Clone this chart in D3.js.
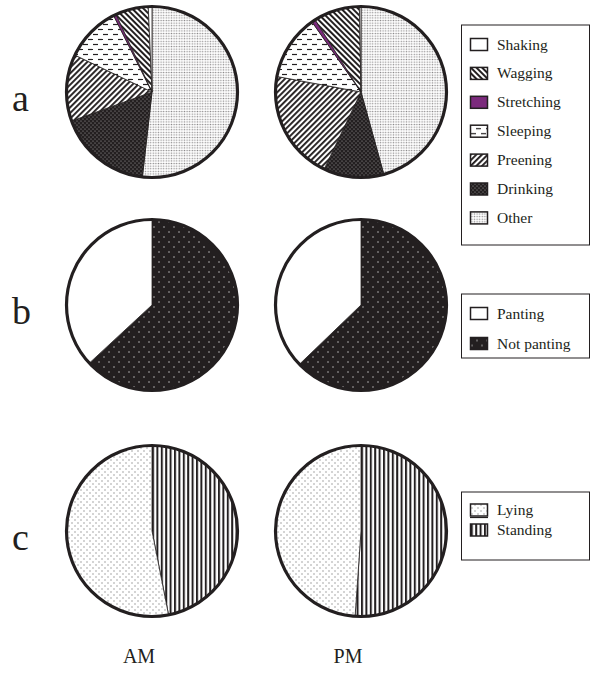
<!DOCTYPE html>
<html>
<head>
<meta charset="utf-8">
<script src="https://cdn.jsdelivr.net/npm/d3@7"></script>
<style>
  body { margin: 0; background: #fff; }
  svg { display: block; }
  text { font-family: "Liberation Serif", "DejaVu Serif", serif; fill: #231f20; }
</style>
</head>
<body>
<script>
const width = 593;
const height = 687;
const ink = '#231f20';

// behaviour (row a), percentages
const behaviours = ['Shaking', 'Wagging', 'Stretching', 'Sleeping', 'Preening', 'Drinking', 'Other'];
const behaviourAM = [0.7, 6.2, 0.5, 10.5, 12.6, 17.7, 51.8];
const behaviourPM = [0.3, 8.7, 0.7, 12.4, 20.8, 11.4, 45.7];

// panting (row b)
const panting = ['Panting', 'Not panting'];
const pantingAM = [36.9, 63.1];
const pantingPM = [37.2, 62.8];

// posture (row c)
const postures = ['Lying', 'Standing'];
const postureAM = [53.1, 46.9];
const posturePM = [48.9, 51.1];

const rowLabels = ['a', 'b', 'c'];
const times = ['AM', 'PM'];

const svg = d3.select('body')
    .append('svg')
    .attr('width', width)
    .attr('height', height);

// ---- fill patterns ----
const defs = svg.append('defs');

function dots(id, size, bg, fg, r, pts) {
    const p = defs.append('pattern')
        .attr('id', id)
        .attr('patternUnits', 'userSpaceOnUse')
        .attr('width', size)
        .attr('height', size);
    p.append('rect').attr('width', size).attr('height', size).attr('fill', bg);
    pts.forEach(([x, y]) => p.append('circle').attr('cx', x).attr('cy', y).attr('r', r).attr('fill', fg));
}
function stripes(id, step, w, angle) {
    const p = defs.append('pattern')
        .attr('id', id)
        .attr('patternUnits', 'userSpaceOnUse')
        .attr('width', step)
        .attr('height', step)
        .attr('patternTransform', `rotate(${angle})`);
    p.append('rect').attr('width', step).attr('height', step).attr('fill', '#fff');
    p.append('rect').attr('width', w).attr('height', step).attr('fill', ink);
}

dots('p-other', 2.6, '#fff', '#8c8a8b', 0.75, [[1.3, 1.3]]);
dots('p-drink', 4, ink, '#a8a6a7', 0.6, [[1, 1], [3, 3]]);
dots('p-notpant', 10, ink, '#b5b3b4', 0.8, [[2, 2], [7, 7]]);
dots('p-lying', 6, '#fff', '#8a8889', 0.7, [[1, 1], [4, 4]]);
stripes('p-preen', 4, 1.9, 45);
stripes('p-wag', 4, 2, -45);
stripes('p-stand', 4.4, 2, 0);

const sl = defs.append('pattern')
    .attr('id', 'p-sleep')
    .attr('patternUnits', 'userSpaceOnUse')
    .attr('width', 10)
    .attr('height', 10);
sl.append('rect').attr('width', 10).attr('height', 10).attr('fill', '#fff');
sl.append('line').attr('x1', 1).attr('x2', 6).attr('y1', 2.5).attr('y2', 2.5).attr('stroke', ink).attr('stroke-width', 1.2);
sl.append('line').attr('x1', 6).attr('x2', 11).attr('y1', 7.5).attr('y2', 7.5).attr('stroke', ink).attr('stroke-width', 1.2);
sl.append('line').attr('x1', -4).attr('x2', 1).attr('y1', 7.5).attr('y2', 7.5).attr('stroke', ink).attr('stroke-width', 1.2);

const behaviourFill = d3.scaleOrdinal(behaviours,
    ['#fff', 'url(#p-wag)', '#7b2a7c', 'url(#p-sleep)', 'url(#p-preen)', 'url(#p-drink)', 'url(#p-other)']);
const pantFill = d3.scaleOrdinal(panting, ['#fff', 'url(#p-notpant)']);
const postureFill = d3.scaleOrdinal(postures, ['url(#p-lying)', 'url(#p-stand)']);

// ---- layout ----
const colX = d3.scalePoint().domain(times).range([152, 361]);
const rowY = d3.scaleOrdinal(rowLabels, [92, 305, 531]);
const radius = 85.5;

const rows = [
    {key: 'a', cats: behaviours, values: {AM: behaviourAM, PM: behaviourPM}, fill: behaviourFill},
    {key: 'b', cats: panting, values: {AM: pantingAM, PM: pantingPM}, fill: pantFill},
    {key: 'c', cats: postures, values: {AM: postureAM, PM: posturePM}, fill: postureFill}
];

// slices run clockwise from 12 o'clock in reverse legend order
const pie = d3.pie().sort(null).value(d => d.value);
const arc = d3.arc().innerRadius(0).outerRadius(radius);

rows.forEach(row => {
    times.forEach(t => {
        const data = row.cats.map((c, i) => ({cat: c, value: row.values[t][i]})).reverse();
        const g = svg.append('g')
            .attr('transform', `translate(${colX(t)},${rowY(row.key)})`);
        g.selectAll('path')
            .data(pie(data))
            .join('path')
            .attr('d', arc)
            .attr('fill', d => row.fill(d.data.cat))
            .attr('stroke', ink)
            .attr('stroke-width', 0.8)
            .attr('stroke-linejoin', 'round');
        g.append('circle')
            .attr('r', radius)
            .attr('fill', 'none')
            .attr('stroke', ink)
            .attr('stroke-width', 3.2);
    });
});

// row letters
svg.selectAll('text.row')
    .data(rowLabels)
    .join('text')
    .attr('class', 'row')
    .attr('x', 12)
    .attr('y', d => rowY(d) + 19)
    .attr('font-size', 38)
    .text(d => d);

// column labels
svg.selectAll('text.col')
    .data(times)
    .join('text')
    .attr('class', 'col')
    .attr('x', d => colX(d) - 13)
    .attr('y', 663)
    .attr('text-anchor', 'middle')
    .attr('font-size', 20)
    .text(d => d);

// ---- legends ----
function legend(cats, fill, top, bottom, first, step) {
    const g = svg.append('g');
    g.append('rect')
        .attr('x', 461.5).attr('y', top)
        .attr('width', 128).attr('height', bottom - top)
        .attr('fill', '#fff')
        .attr('stroke', ink)
        .attr('stroke-width', 1);
    const item = g.selectAll('g.item')
        .data(cats)
        .join('g')
        .attr('transform', (d, i) => `translate(0,${first + i * step})`);
    item.append('rect')
        .attr('x', 470.5).attr('y', -6)
        .attr('width', 17).attr('height', 12)
        .attr('fill', d => fill(d))
        .attr('stroke', ink)
        .attr('stroke-width', 1.5);
    item.append('text')
        .attr('x', 497)
        .attr('y', 5)
        .attr('font-size', 15.5)
        .text(d => d);
    return g;
}

legend(behaviours, behaviourFill, 25, 245, 44.5, 28.9);
legend(panting, pantFill, 294, 358, 313.5, 30);
const lc = legend(postures, postureFill, 492, 560, 510, 20);
lc.append('line')
    .attr('x1', 470).attr('x2', 488)
    .attr('y1', 517.5).attr('y2', 517.5)
    .attr('stroke', ink).attr('stroke-width', 1.2);
</script>
</body>
</html>
